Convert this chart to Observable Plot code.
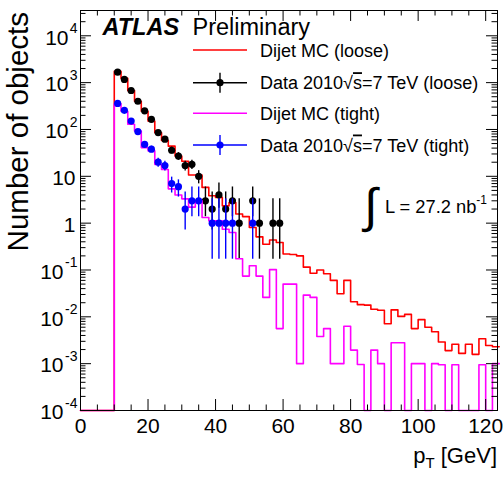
<!DOCTYPE html>
<html><head><meta charset="utf-8">
<script src="https://cdn.jsdelivr.net/npm/d3@7"></script>
<script src="https://cdn.jsdelivr.net/npm/@observablehq/plot@0.6"></script>
<style>
html,body{margin:0;padding:0;background:#fff;}
#chart{position:relative;width:504px;height:481px;}
</style></head><body><div id="chart"></div>
<script>
// ---------- data ----------
const binWidth = 2;                       // GeV
const binEdges = d3.range(0, 124, 2);      // lower edges of the 62 bins (0..122)

// Dijet MC (loose), per bin (0-2 ... 122-124)
const mcLoose = [0,0,0,0,0,
  1740,1230,676,398,245,151,85,58,44,27,21,10.7,10.7,5.8,3.85,3.55,2.34,2.75,1.57,1.38,
  0.81,0.51,0.355,0.436,0.385,0.22,0.214,0.2,0.115,0.085,0.1,0.083,0.06,0.031,0.06,
  0.021,0.0182,0.0178,0.0145,0.0138,0.0071,0.0141,0.0102,0.0113,0.0056,0.0087,0.006,0.0048,
  0.0029,0.0019,0.0026,0.00166,0.0026,0.00158,0.0034,0.00245,0.0023];

// Dijet MC (tight)
const mcTight = [0,0,0,0,0,
  355,245,129,93,41,35,18,14,5.4,4.0,3.3,2.2,3.0,1.32,1.12,1.12,0.74,0.63,0.174,0.074,
  0.123,0.074,0.026,0.102,0.0056,0.05,0.05,0.001,0.029,0.026,0.0038,0.0056,0.001,0.001,0.0063,
  0.00195,0.00096,0,0.00195,0.001,0,0.0028,0.0028,0,0.001,0.001,0,0.001,
  0.00095,0,0.00095,0,0,0,0.00095,0,0.001];

// Data 2010 (loose): bin centres, counts, error-bar ends
const looseX  = [11,13,15,17,19,21,23,25,27,29,31,33,35,37,39,41,43,45,47,51,53,57,59];
const looseN  = [1670,1170,680,400,250,165,86,62,36,27,17,18,10,3,2,4,2,3,1,3,1,1,1];
const looseLo = [1629,1136,654,380,234,152,77,54,30,22,13,14,6.9,1.37,0.71,2.09,0.71,1.37,0.17,1.37,0.17,0.17,0.17];
const looseHi = [1711,1204,706,420,266,178,95,70,42,32,21,22,13.2,5.92,4.64,7.16,4.64,5.92,3.3,5.92,3.3,3.3,3.3];

// Data 2010 (tight)
const tightX  = [11,13,15,17,19,21,23,25,27,29,31,33,35,39,41,43,45,51];
const tightN  = [360,256,151,90,48,38,20,17,7,6,2,3,3,1,1,1,1,1];
const tightLo = [341,240,139,81,41,32,15.6,13,4.4,3.6,0.71,1.37,1.37,0.17,0.17,0.17,0.17,0.17];
const tightHi = [379,272,163,99,55,44,24.4,21,9.6,8.4,4.64,5.92,5.92,3.3,3.3,3.3,3.3,3.3];

// axes
const xMajor = [0,20,40,60,80,100,120];
const xMinor = [5,10,15,25,30,35,45,50,55,65,70,75,85,90,95,105,110,115];
const yMajor = [1e-4,1e-3,1e-2,1e-1,1,10,1e2,1e3,1e4];
const yBase  = ["10","10","10","10","1","10","10","10","10"];
const yExp   = ["-4","-3","-2","-1","","","2","3","4"];
const yMinor = [];
[-4,-3,-2,-1,0,1,2,3].forEach(d => [2,3,4,5,6,7,8,9].forEach(k => yMinor.push(+(k + "e" + d))));
yMinor.push(2e4, 3e4);

const legendLabels = ["Dijet MC (loose)", "Data 2010", "Dijet MC (tight)", "Data 2010"];
const legendTails  = ["", "=7 TeV (loose)", "", "=7 TeV (tight)"];
const legendColors = ["#ff0000", "#000000", "#ff00ff", "#0000ff"];
const legendKinds  = ["line", "data", "line", "data"];

// ---------- layout ----------
const FONT = "'Liberation Sans', Arial, Helvetica, sans-serif";
const W = 504, H = 481, mL = 80, mR = 7, mT = 10, mB = 71;
const innerW = W - mL - mR, innerH = H - mT - mB;
const yMin = 1e-4, yMax = Math.pow(10, 4.54);

function steps(vals) {
  const pts = binEdges.map((e, i) => ({x: e, y: Math.max(vals[i], yMin)}));
  pts.push({x: binEdges[binEdges.length - 1] + binWidth, y: pts[pts.length - 1].y});
  return pts;
}
const loose = looseX.map((x, i) => ({x, y: looseN[i], lo: looseLo[i], hi: looseHi[i]}));
const tight = tightX.map((x, i) => ({x, y: tightN[i], lo: tightLo[i], hi: tightHi[i]}));
const yLab = yMajor.map((v, i) => ({v, base: yBase[i], exp: yExp[i]}));

const svg = Plot.plot({
  width: W, height: H,
  marginLeft: mL, marginRight: mR, marginTop: mT, marginBottom: mB,
  style: {fontFamily: FONT, background: "white", overflow: "visible"},
  x: {domain: [0, 123.5], axis: null},
  y: {type: "log", domain: [yMin, yMax], axis: null},
  marks: [
    Plot.line(steps(mcLoose), {x: "x", y: "y", curve: "step-after", stroke: "#ff0000", strokeWidth: 1.6}),
    Plot.ruleX(loose, {x: "x", y1: "lo", y2: "hi", stroke: "#000", strokeWidth: 1.4}),
    Plot.dot(loose, {x: "x", y: "y", r: 3.6, fill: "#000", stroke: "none"}),
    Plot.line(steps(mcTight), {x: "x", y: "y", curve: "step-after", stroke: "#ff00ff", strokeWidth: 1.6}),
    Plot.ruleX(tight, {x: "x", y1: "lo", y2: "hi", stroke: "#0000ff", strokeWidth: 1.4}),
    Plot.dot(tight, {x: "x", y: "y", r: 3.6, fill: "#0000ff", stroke: "none"}),
    Plot.tickX(xMajor, {x: d => d, insetTop: innerH - 11, stroke: "#000"}),
    Plot.tickX(xMajor, {x: d => d, insetBottom: innerH - 11, stroke: "#000"}),
    Plot.tickX(xMinor, {x: d => d, insetTop: innerH - 5.5, stroke: "#000"}),
    Plot.tickX(xMinor, {x: d => d, insetBottom: innerH - 5.5, stroke: "#000"}),
    Plot.tickY(yMajor, {y: d => d, insetRight: innerW - 11, stroke: "#000"}),
    Plot.tickY(yMajor, {y: d => d, insetLeft: innerW - 11, stroke: "#000"}),
    Plot.tickY(yMinor, {y: d => d, insetRight: innerW - 5.5, stroke: "#000"}),
    Plot.tickY(yMinor, {y: d => d, insetLeft: innerW - 5.5, stroke: "#000"}),
    Plot.frame({stroke: "#000", strokeWidth: 1}),
    Plot.text(xMajor, {x: d => d, text: d => String(d), frameAnchor: "bottom", dy: 16, lineAnchor: "middle", fontSize: 21, fill: "#000"}),
    Plot.text(yLab.filter(d => d.exp === ""), {y: "v", text: "base", frameAnchor: "left", textAnchor: "end", dx: -5, dy: 2, lineAnchor: "middle", fontSize: 21, fill: "#000"}),
    Plot.text(yLab.filter(d => d.exp.startsWith("-")), {y: "v", text: "base", frameAnchor: "left", textAnchor: "end", dx: -17, dy: 2, lineAnchor: "middle", fontSize: 21, fill: "#000"}),
    Plot.text(yLab.filter(d => d.exp !== "" && !d.exp.startsWith("-")), {y: "v", text: "base", frameAnchor: "left", textAnchor: "end", dx: -12, dy: 2, lineAnchor: "middle", fontSize: 21, fill: "#000"}),
    Plot.text(yLab.filter(d => d.exp !== ""), {y: "v", text: "exp", frameAnchor: "left", textAnchor: "end", dx: -3, dy: -7, lineAnchor: "middle", fontSize: 14, fill: "#000"})
  ]
});
document.getElementById("chart").append(svg);

// ---------- annotations ----------
const g = d3.select(svg).append("g").attr("font-family", FONT).attr("fill", "#000")
  .attr("text-anchor", "start");

g.append("text").attr("transform", "translate(28,12) rotate(-90)")
  .attr("text-anchor", "end").attr("font-size", 29.5)
  .text("Number of objects");
const xt = g.append("text").attr("x", 497).attr("y", 463).attr("text-anchor", "end").attr("font-size", 22);
xt.append("tspan").text("p");
xt.append("tspan").attr("font-size", 15).attr("dy", 5).text("T");
xt.append("tspan").attr("dy", -5).text(" [GeV]");

g.append("text").attr("x", 102.5).attr("y", 35).attr("font-size", 23.5)
  .attr("font-weight", "bold").attr("font-style", "italic").text("ATLAS");
g.append("text").attr("x", 192.5).attr("y", 35).attr("font-size", 23.5).text("Preliminary");

const rowY = [50, 82.7, 113.3, 145];
legendLabels.forEach((lab, i) => {
  const y = rowY[i], c = legendColors[i];
  g.append("line").attr("x1", 193).attr("x2", 247).attr("y1", y).attr("y2", y)
    .attr("stroke", c).attr("stroke-width", legendKinds[i] === "line" ? 1.6 : 1.4);
  if (legendKinds[i] === "data") {
    g.append("line").attr("x1", 220).attr("x2", 220).attr("y1", y - 10).attr("y2", y + 10)
      .attr("stroke", c).attr("stroke-width", 1.4);
    g.append("circle").attr("cx", 220).attr("cy", y).attr("r", 3.6).attr("fill", c);
  }
  const t = g.append("text").attr("x", 260).attr("y", y + 6.5).attr("font-size", 18);
  t.append("tspan").text(lab);
  if (legendKinds[i] === "data") {
    t.append("tspan").text("\u221A");
    t.append("tspan").attr("style", "text-decoration: overline").text("s");
    t.append("tspan").text(legendTails[i]);
  }
});

g.append("text").attr("x", 364).attr("y", 222).attr("font-size", 48).text("\u222B");
const lt = g.append("text").attr("x", 385).attr("y", 213).attr("font-size", 18.3);
lt.append("tspan").text("L = 27.2 nb");
lt.append("tspan").attr("font-size", 12).attr("dy", -9).text("-1");
</script></body></html>
